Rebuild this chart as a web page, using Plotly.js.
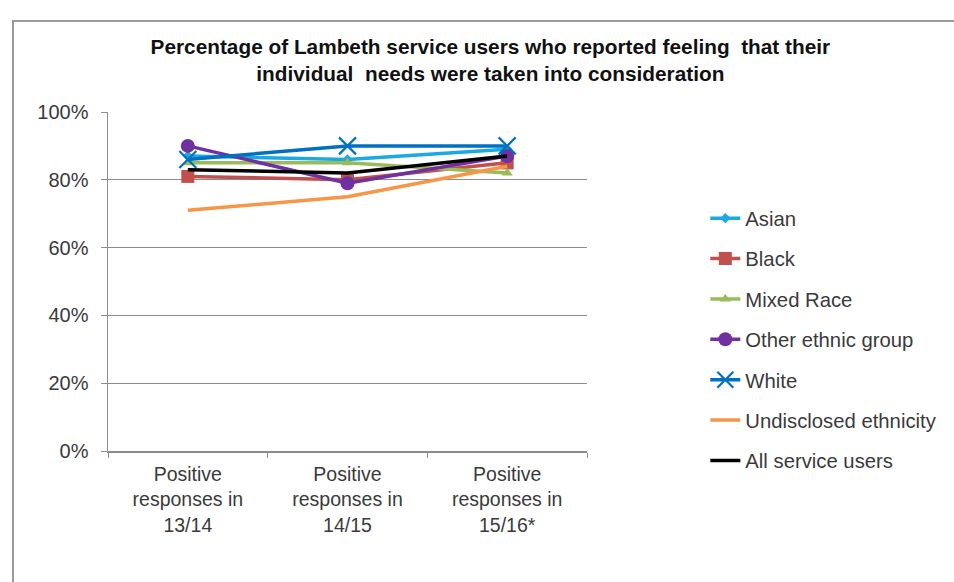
<!DOCTYPE html>
<html>
<head>
<meta charset="utf-8">
<script src="https://cdn.plot.ly/plotly-3.0.1.min.js"></script>
<style>
  html, body { margin: 0; padding: 0; background: #ffffff; }
  #wrap { position: relative; width: 954px; height: 582px; overflow: hidden; }
  #chart { position: absolute; left: 0; top: 0; width: 954px; height: 582px; }
  #frame { position: absolute; left: 12px; top: 20px; width: 1000px; height: 620px;
           border-left: 2px solid #9a9a9a; border-top: 2px solid #9a9a9a; pointer-events: none; }
</style>
</head>
<body>
<div id="wrap">
  <div id="chart"></div>
  <div id="frame"></div>
</div>
<script>
const categories = [
  "Positive<br>responses in<br>13/14",
  "Positive<br>responses in<br>14/15",
  "Positive<br>responses in<br>15/16*"
];
const seriesNames = ["Asian", "Black", "Mixed Race", "Other ethnic group", "White", "Undisclosed ethnicity", "All service users"];
const asian       = [0.87, 0.86, 0.89];
const black       = [0.81, 0.80, 0.85];
const mixedRace   = [0.85, 0.85, 0.82];
const otherEthnic = [0.90, 0.79, 0.87];
const white       = [0.86, 0.90, 0.90];
const undisclosed = [0.71, 0.75, 0.84];
const allUsers    = [0.83, 0.82, 0.87];
const yTickVals   = [0, 0.2, 0.4, 0.6, 0.8, 1.0];
const yTickText   = ["0%", "20%", "40%", "60%", "80%", "100%"];

const seriesValues = [asian, black, mixedRace, otherEthnic, white, undisclosed, allUsers];
const colors = ["#1BA9E1", "#C0504D", "#9BBB59", "#7030A0", "#0070C0", "#F79646", "#000000"];
const markers = [
  {symbol: "diamond", size: 8},
  {symbol: "square", size: 13},
  {symbol: "triangle-up", size: 10},
  {symbol: "circle", size: 14},
  {symbol: "x-thin-open", size: 17, line: {width: 2.2, color: "#0070C0"}},
  null,
  null
];

const traces = seriesNames.map((name, i) => {
  const t = {
    type: "scatter",
    x: categories,
    y: seriesValues[i],
    name: name,
    legendgroup: "g" + i,
    line: {color: colors[i], width: 3.5},
    mode: markers[i] ? "lines+markers" : "lines"
  };
  if (markers[i]) {
    t.marker = Object.assign({color: colors[i]}, markers[i]);
  }
  return t;
});

const FONT = "Liberation Sans, Arial, sans-serif";

const layout = {
  width: 954,
  height: 582,
  paper_bgcolor: "#ffffff",
  plot_bgcolor: "#ffffff",
  margin: {l: 108, r: 367, t: 112, b: 131},
  font: {family: FONT, size: 20, color: "#3a3a3a"},
  showlegend: true,
  title: {
    text: "<b>Percentage of Lambeth service users who reported feeling  that their<br>individual  needs were taken into consideration</b>",
    font: {family: FONT, size: 20.8, color: "#111111"},
    x: 0.514,
    xanchor: "center",
    xref: "container",
    y: 0.908,
    yanchor: "top",
    yref: "container"
  },
  xaxis: {
    type: "category",
    range: [-0.5, 2.5],
    tickson: "boundaries",
    ticks: "outside",
    ticklen: 5,
    tickcolor: "#8c8c8c",
    showline: true,
    linecolor: "#8c8c8c",
    linewidth: 1.5,
    showgrid: false,
    zeroline: false,
    ticklabelstandoff: 5,
    tickfont: {family: FONT, size: 19.5, color: "#3a3a3a"},
    fixedrange: true
  },
  yaxis: {
    range: [0, 1],
    tickvals: yTickVals,
    ticktext: yTickText,
    ticks: "outside",
    ticklen: 6,
    tickcolor: "#8c8c8c",
    showline: true,
    linecolor: "#8c8c8c",
    linewidth: 1.5,
    showgrid: true,
    gridcolor: "#8c8c8c",
    gridwidth: 1,
    zeroline: false,
    ticklabelstandoff: 8,
    tickfont: {family: FONT, size: 20, color: "#3a3a3a"},
    fixedrange: true
  },
  legend: {
    x: 1.247,
    xanchor: "left",
    y: 0.745,
    yanchor: "top",
    traceorder: "grouped",
    tracegroupgap: 11,
    font: {family: FONT, size: 20.3, color: "#3a3a3a"},
    bgcolor: "rgba(0,0,0,0)",
    borderwidth: 0
  }
};

Plotly.newPlot("chart", traces, layout, {displayModeBar: false, staticPlot: true});
</script>
</body>
</html>
